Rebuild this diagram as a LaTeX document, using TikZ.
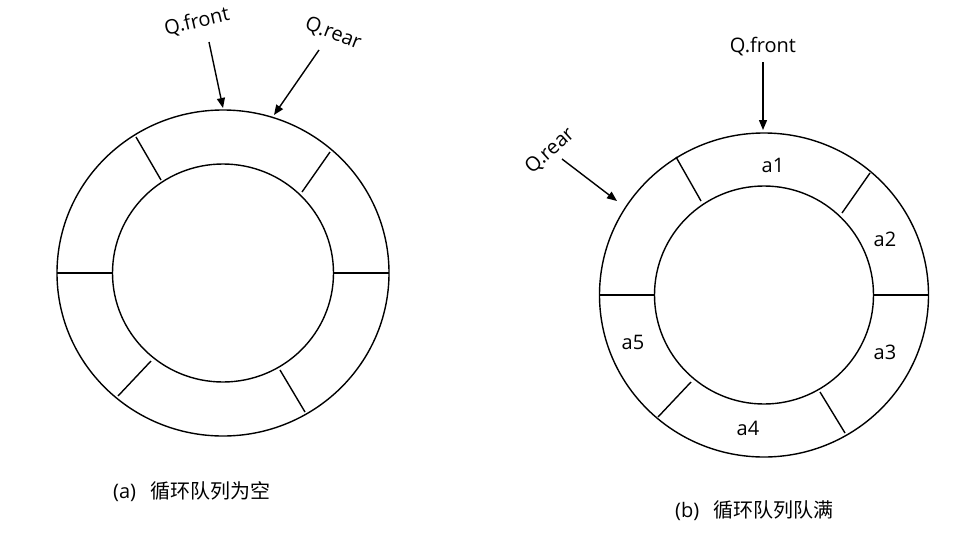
\documentclass[tikz,border=0pt]{standalone}
\usepackage{fontspec}
\setmainfont{Open Sans}
\newfontfamily\cjk{Noto Sans CJK SC}
\usetikzlibrary{arrows.meta}
\tikzset{
  ring/.style={line width=1.4pt},
  ptr/.style={line width=1.4pt,-{Triangle[length=10pt,width=8pt]}},
  lbl/.style={inner sep=0pt,font=\fontsize{20}{24}\selectfont},
  captext/.style={inner sep=0pt,anchor=west,font=\fontsize{20}{24}\selectfont}
}
\begin{document}
\begin{tikzpicture}[x=1pt,y=-1pt]
\useasboundingbox[fill=white] (0,0) rectangle (980,533);
% left ring
\begin{scope}[shift={(223,273)}]
  \coordinate (L) at (0,0);
  \draw[ring] (L) ellipse [x radius=166, y radius=163];
  \draw[ring] (L) ellipse [x radius=110.5, y radius=109];
  \draw[ring] (166,0) -- (111,0);
  \draw[ring] (107,-121) -- (79,-81);
  \draw[ring] (-87,-136) -- (-62,-93);
  \draw[ring] (-166,0) -- (-110,0);
  \draw[ring] (-105,123) -- (-72,88);
  \draw[ring] (82,139) -- (57,97);
\end{scope}
% right ring
\begin{scope}[shift={(764,295)}]
  \coordinate (R) at (0,0);
  \draw[ring] (R) ellipse [x radius=164.5, y radius=162];
  \draw[ring] (R) ellipse [x radius=109.5, y radius=109];
  \draw[ring] (164.5,0) -- (110,0);
  \draw[ring] (106,-122) -- (78,-82);
  \draw[ring] (-88,-138) -- (-63,-94);
  \draw[ring] (-164.5,0) -- (-110,0);
  \draw[ring] (-106,122) -- (-73,87);
  \draw[ring] (81,138) -- (56,97);
\end{scope}
% left labels and pointers
\node[lbl,rotate=13] (lf) at (197,22) {Q.front};
\node[lbl,rotate=-21] (lr) at (333,34) {Q.rear};
\coordinate (lfs) at (209,42);
\coordinate (lft) at (223,108);
\coordinate (lrs) at (319,50);
\coordinate (lrt) at (274,115);
\draw[ptr] (lfs) -- (lft);
\draw[ptr] (lrs) -- (lrt);
% right labels and pointers
\node[lbl] (rf) at (763,47) {Q.front};
\node[lbl,rotate=42] (rr) at (550,151) {Q.rear};
\coordinate (rfs) at (763,62);
\coordinate (rft) at (763,130);
\coordinate (rrs) at (562,159);
\coordinate (rrt) at (617,201);
\draw[ptr] (rfs) -- (rft);
\draw[ptr] (rrs) -- (rrt);
% elements
\node[lbl] (a1) at (773,165) {a1};
\node[lbl] (a2) at (885,239) {a2};
\node[lbl] (a3) at (885,352) {a3};
\node[lbl] (a4) at (748,428) {a4};
\node[lbl] (a5) at (633,342) {a5};
% captions
\node[captext] (ca) at (113,492) {(a)\hspace{0.7em}{\cjk 循环队列为空}};
\node[captext] (cb) at (675,511) {(b)\hspace{0.7em}{\cjk 循环队列队满}};
\end{tikzpicture}
\end{document}
